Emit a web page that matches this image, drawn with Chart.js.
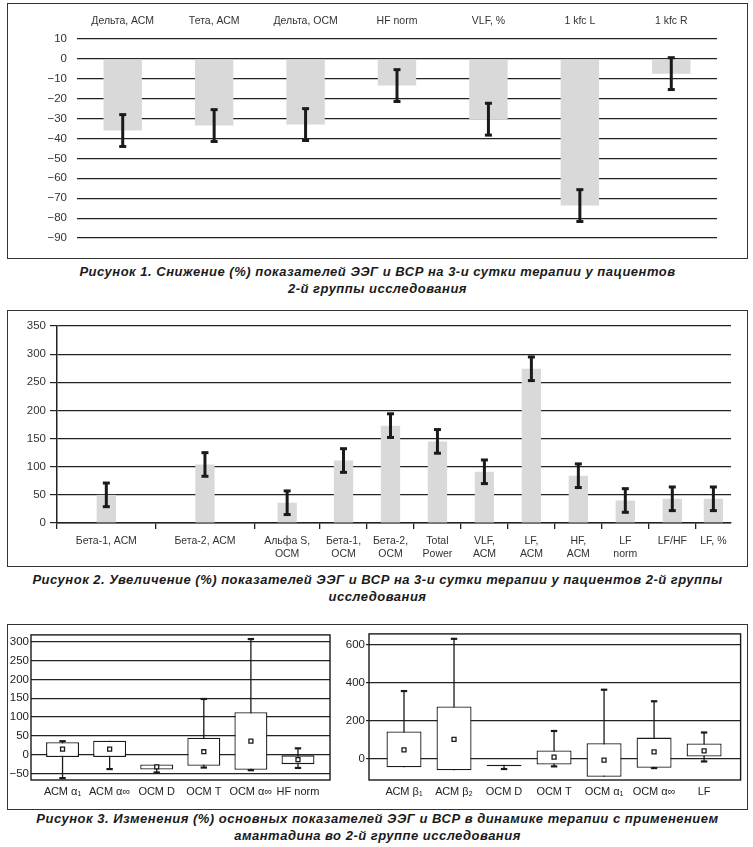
<!DOCTYPE html>
<html lang="ru">
<head>
<meta charset="utf-8">
<title>Рисунки 1–3</title>
<script src="https://cdn.jsdelivr.net/npm/chart.js@4.4.1/dist/chart.umd.min.js"></script>
<style>
  html, body { margin: 0; padding: 0; background: #fff; }
  body { width: 753px; height: 847px; position: relative; overflow: hidden; }
  .frame { position: absolute; border: 1.5px solid #333; box-sizing: border-box; }
  canvas { position: absolute; }
  .cap {
    position: absolute; left: 0; width: 755px; text-align: center;
    font: italic bold 13px/16.5px 'Liberation Sans', Arial, sans-serif;
    letter-spacing: 0.5px; color: #1a1a1a;
  }
</style>
</head>
<body>

<div class="frame" style="left:7px;top:3px;width:741px;height:256px"></div>
<canvas id="fig1" width="739" height="254" style="left:8px;top:4px"></canvas>
<div class="cap" style="top:264px">Рисунок 1. Снижение (%) показателей ЭЭГ и ВСР на 3-и сутки терапии у пациентов<br>2-й группы исследования</div>

<div class="frame" style="left:7px;top:310px;width:741px;height:257px"></div>
<canvas id="fig2" width="739" height="254" style="left:8px;top:312px"></canvas>
<div class="cap" style="top:572px">Рисунок 2. Увеличение (%) показателей ЭЭГ и ВСР на 3-и сутки терапии у пациентов 2-й группы<br>исследования</div>

<div class="frame" style="left:7px;top:624px;width:741px;height:186px"></div>
<canvas id="fig3a" width="350" height="182" style="left:8px;top:626px"></canvas>
<canvas id="fig3b" width="406" height="182" style="left:340px;top:626px"></canvas>
<div class="cap" style="top:811px">Рисунок 3. Изменения (%) основных показателей ЭЭГ и ВСР в динамике терапии с применением<br>амантадина во 2-й группе исследования</div>

<script>
// ---- Рисунок 1: снижение, %
const fig1Labels = ['Дельта, АСМ', 'Тета, АСМ', 'Дельта, ОСМ', 'HF norm', 'VLF, %', '1 kfc L', '1 kfc R'];
const fig1Values = [-36, -33.5, -33, -13.4, -30.3, -73.7, -7.4];
const fig1Errors = [8, 8, 8, 8, 8, 8, 8];
const fig1Ticks = [10, 0, -10, -20, -30, -40, -50, -60, -70, -80, -90];

// ---- Рисунок 2: увеличение, %
const fig2Labels = [
  ['Бета-1, АСМ'], ['Бета-2, АСМ'], ['Альфа S,', 'ОСМ'], ['Бета-1,', 'ОСМ'],
  ['Бета-2,', 'ОСМ'], ['Total', 'Power'], ['VLF,', 'АСМ'], ['LF,', 'АСМ'],
  ['HF,', 'АСМ'], ['LF', 'norm'], ['LF/HF'], ['LF, %']
];
const fig2Values = [50, 104, 36, 111, 173, 145, 91, 274, 84, 40, 43, 43];
const fig2Errors = [21, 21, 21, 21, 21, 21, 21, 21, 21, 21, 21, 21];
const fig2Ticks = [0, 50, 100, 150, 200, 250, 300, 350];
// category boundaries on the x axis (the source chart has uneven slots)
const fig2BinEdges = [0, 2.1, 4.2, 5.6, 6.6, 7.6, 8.6, 9.6, 10.6, 11.6, 12.6, 13.6, 14.35];

// ---- Рисунок 3, слева
const fig3aLabels = ['АСМ α₁', 'АСМ α∞', 'ОСМ D', 'ОСМ T', 'ОСМ α∞', 'HF norm'];
const fig3aBoxLow = [-6, -6, -39, -29, -40, -25];
const fig3aBoxHigh = [33, 37, -26, 45, 113, 0];
const fig3aWhiskLow = [-62, -38, -47, -34, -41, -35];
const fig3aWhiskHigh = [36, 37, -26, 148, 307, 17];
const fig3aMid = [15, 15, -32, 8, 36, -13];
const fig3aTicks = [-50, 0, 50, 100, 150, 200, 250, 300];

// ---- Рисунок 3, справа
const fig3bLabels = ['АСМ β₁', 'АСМ β₂', 'ОСМ D', 'ОСМ T', 'ОСМ α₁', 'ОСМ α∞', 'LF'];
const fig3bBoxLow = [-47, -63, -42, -32, -97, -49, 10];
const fig3bBoxHigh = [142, 275, -33, 42, 80, 110, 79];
const fig3bWhiskLow = [-47, -63, -56, -42, -97, -51, -16];
const fig3bWhiskHigh = [356, 632, -33, 145, 363, 302, 137];
const fig3bMid = [45, 101, null, 7, -9, 35, 40];
const fig3bTicks = [0, 200, 400, 600];

const INK = '#1a1a1a';
const BAR = '#d9d9d9';
const FONT = "'Liberation Sans', Arial, sans-serif";
Chart.defaults.font.family = FONT;
Chart.defaults.color = '#333';

const minus = v => (v < 0 ? '\u2212' + Math.abs(v) : String(v));
const setTicks = list => scale => { scale.ticks = list.map(v => ({ value: v })); };
const fixWidth = w => scale => { scale.width = w; };
const fixHeight = h => scale => { scale.height = h; };

const baseOptions = {
  responsive: false,
  animation: false,
  plugins: { legend: { display: false }, tooltip: { enabled: false } }
};

// caps drawn as short horizontal point markers
function capSet(data, radius, width, order) {
  return {
    type: 'line', data, showLine: false, order,
    pointStyle: 'line', pointRadius: radius, pointHoverRadius: radius,
    borderColor: INK, pointBorderColor: INK, pointBorderWidth: width, clip: false
  };
}

/* Рисунок 1 */
new Chart(document.getElementById('fig1'), {
  type: 'bar',
  data: {
    labels: fig1Labels,
    datasets: [
      capSet(fig1Values.map((v, i) => v + fig1Errors[i]), 3.5, 3, 0),
      capSet(fig1Values.map((v, i) => v - fig1Errors[i]), 3.5, 3, 0),
      {
        data: fig1Values.map((v, i) => [v - fig1Errors[i], v + fig1Errors[i]]),
        backgroundColor: INK, grouped: false, maxBarThickness: 3, order: 1
      },
      {
        data: fig1Values, backgroundColor: BAR, grouped: false,
        barPercentage: 0.42, categoryPercentage: 1, order: 2
      }
    ]
  },
  options: {
    ...baseOptions,
    layout: { padding: { left: 0, right: 30, top: 0, bottom: 20 } },
    scales: {
      x: {
        position: 'top',
        grid: { display: false, drawTicks: false },
        border: { display: false },
        ticks: { padding: 12, font: { size: 10.5 }, maxRotation: 0, autoSkip: false },
        afterFit: fixHeight(35)
      },
      y: {
        min: -90, max: 10,
        afterBuildTicks: setTicks(fig1Ticks),
        afterFit: fixWidth(69),
        border: { display: false },
        grid: { color: '#222', lineWidth: 1.2, drawTicks: false },
        ticks: { padding: 10, font: { size: 11.5 }, callback: minus }
      }
    }
  }
});

/* Рисунок 2 */
const fig2Centers = fig2Labels.map((_, i) => (fig2BinEdges[i] + fig2BinEdges[i + 1]) / 2);
const fig2Max = fig2BinEdges[fig2BinEdges.length - 1];
const isEdge = v => fig2BinEdges.includes(v);

new Chart(document.getElementById('fig2'), {
  type: 'bar',
  data: {
    datasets: [
      capSet(fig2Values.map((v, i) => ({ x: fig2Centers[i], y: v + fig2Errors[i] })), 3.5, 3, 0),
      capSet(fig2Values.map((v, i) => ({ x: fig2Centers[i], y: v - fig2Errors[i] })), 3.5, 3, 0),
      {
        data: fig2Values.map((v, i) => ({ x: fig2Centers[i], y: [v - fig2Errors[i], v + fig2Errors[i]] })),
        backgroundColor: INK, grouped: false, maxBarThickness: 3, order: 1
      },
      {
        data: fig2Values.map((v, i) => ({ x: fig2Centers[i], y: v })),
        backgroundColor: BAR, grouped: false,
        barPercentage: 0.47, categoryPercentage: 1, order: 2
      }
    ]
  },
  options: {
    ...baseOptions,
    layout: { padding: { left: 0, right: 16, top: 14, bottom: 0 } },
    scales: {
      x: {
        type: 'linear', display: false, min: 0, max: fig2Max,
        offset: false, grid: { offset: false },
        afterBuildTicks: setTicks(fig2Centers)
      },
      x2: {
        type: 'linear', position: 'bottom', min: 0, max: fig2Max, offset: false,
        afterBuildTicks: setTicks([...fig2BinEdges.slice(0, -1), ...fig2Centers].sort((a, b) => a - b)),
        afterFit: fixHeight(43),
        border: { display: true, color: '#222', width: 1.5 },
        grid: {
          offset: false, drawOnChartArea: false, drawTicks: true, tickLength: 6, lineWidth: 1.3,
          tickColor: ctx => (ctx.tick && isEdge(ctx.tick.value) ? '#222' : 'rgba(0,0,0,0)'),
          color: ctx => (ctx.tick && isEdge(ctx.tick.value) ? '#222' : 'rgba(0,0,0,0)')
        },
        ticks: {
          autoSkip: false, maxRotation: 0, padding: 5,
          font: { size: 10.5, lineHeight: 1.3 },
          callback: v => {
            const i = fig2Centers.indexOf(v);
            return i < 0 ? '' : fig2Labels[i];
          }
        }
      },
      y: {
        min: 0, max: 350,
        afterBuildTicks: setTicks(fig2Ticks),
        afterFit: fixWidth(49),
        border: { display: true, color: '#222', width: 1.5 },
        grid: { color: '#222', lineWidth: 1.2, drawTicks: true, tickLength: 7 },
        ticks: { padding: 4, font: { size: 11.5 } }
      }
    }
  }
});

/* Рисунок 3 — box plots */
const plotFrame = {
  id: 'plotFrame',
  afterDatasetsDraw(chart) {
    const { ctx, chartArea: a } = chart;
    ctx.save();
    ctx.strokeStyle = INK;
    ctx.lineWidth = 1.4;
    ctx.strokeRect(a.left, a.top, a.right - a.left, a.bottom - a.top);
    ctx.restore();
  }
};

function boxChart(id, s) {
  const idx = s.labels.map((_, i) => i);
  const pts = (arr, keep) => idx.filter(i => arr[i] !== null && keep(i)).map(i => ({ x: i, y: arr[i] }));
  return new Chart(document.getElementById(id), {
    type: 'bar',
    data: {
      datasets: [
        {
          type: 'line', data: pts(s.mid, () => true), showLine: false, order: 0,
          pointStyle: 'rect', pointRadius: 2.8, pointHoverRadius: 2.8,
          pointBackgroundColor: '#fff', pointBorderColor: INK, pointBorderWidth: 1.3, borderColor: INK
        },
        capSet(pts(s.whiskHigh, i => s.whiskHigh[i] > s.boxHigh[i]), 3.2, 2.2, 1),
        capSet(pts(s.whiskLow, i => s.whiskLow[i] < s.boxLow[i]), 3.2, 2.2, 1),
        {
          data: idx.map(i => ({ x: i, y: [s.boxLow[i], s.boxHigh[i]] })),
          backgroundColor: '#fff', borderColor: INK, borderWidth: 1.3, borderSkipped: false,
          grouped: false, barPercentage: 0.7, categoryPercentage: 1, order: 2
        },
        {
          data: idx.map(i => ({ x: i, y: [s.whiskLow[i], s.whiskHigh[i]] })),
          backgroundColor: INK, grouped: false, maxBarThickness: 1.3, order: 3
        }
      ]
    },
    options: {
      ...baseOptions,
      layout: { padding: { left: 0, right: s.padRight, top: 7, bottom: 0 } },
      scales: {
        x: {
          type: 'linear', min: s.xMin, max: s.xMax, offset: false,
          afterBuildTicks: setTicks(idx),
          afterFit: fixHeight(28),
          border: { display: false },
          grid: { display: false, drawTicks: false, offset: false },
          ticks: { padding: 5, font: { size: 11 }, color: '#222', autoSkip: false, maxRotation: 0,
                   callback: v => s.labels[v] }
        },
        y: {
          min: s.yMin, max: s.yMax,
          afterBuildTicks: setTicks(s.ticks),
          afterFit: fixWidth(s.yWidth),
          border: { display: false },
          grid: { color: '#222', lineWidth: 1.2, drawTicks: s.tickLen > 0, tickLength: s.tickLen },
          ticks: { padding: s.tickPad, font: { size: 11.5 }, color: '#222', callback: minus }
        }
      }
    },
    plugins: [plotFrame]
  });
}

boxChart('fig3a', {
  labels: fig3aLabels, boxLow: fig3aBoxLow, boxHigh: fig3aBoxHigh,
  whiskLow: fig3aWhiskLow, whiskHigh: fig3aWhiskHigh, mid: fig3aMid, ticks: fig3aTicks,
  xMin: -0.67, xMax: 5.68, yMin: -67, yMax: 318,
  yWidth: 23, tickLen: 0, tickPad: 2, padRight: 28
});

boxChart('fig3b', {
  labels: fig3bLabels, boxLow: fig3bBoxLow, boxHigh: fig3bBoxHigh,
  whiskLow: fig3bWhiskLow, whiskHigh: fig3bWhiskHigh, mid: fig3bMid, ticks: fig3bTicks,
  xMin: -0.7, xMax: 6.73, yMin: -114, yMax: 658,
  yWidth: 29, tickLen: 3, tickPad: 1, padRight: 2
});
</script>
</body>
</html>
